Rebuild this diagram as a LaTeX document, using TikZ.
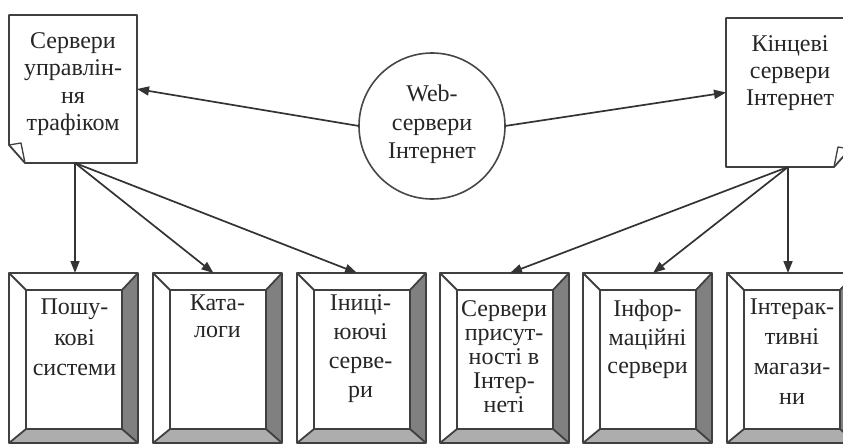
\documentclass[tikz,border=0pt]{standalone}
\usepackage{fontspec}
\setmainfont{Liberation Serif}
\usetikzlibrary{arrows.meta,calc}
\tikzset{
 lbl/.style={font=\fontsize{24}{#1}\selectfont, text=black!85, align=center, inner sep=0pt, anchor=north},
 lbl/.default=28,
 conn/.style={draw=black!80, line width=1.7pt, -{Triangle[length=12pt,width=9pt]}},
 frame/.style={draw=black!75, line width=1.8pt, line join=round},
 bbox/.style={rectangle, minimum width=129pt, minimum height=170pt, inner sep=0pt, outer sep=0pt},
 docbox/.style={rectangle, inner sep=0pt, outer sep=0pt},
 rbevel/.style={fill=black!50},
 bbevel/.style={fill=black!32},
}
\newcommand\drawbevel[1]{%
 \coordinate (#1-iNW) at ($(#1.north west)+(17,17)$);
 \coordinate (#1-iNE) at ($(#1.north east)+(-16,17)$);
 \coordinate (#1-iSE) at ($(#1.south east)+(-16,-14)$);
 \coordinate (#1-iSW) at ($(#1.south west)+(17,-14)$);
 \fill[rbevel] (#1.north east) -- (#1.south east) -- (#1-iSE) -- (#1-iNE) -- cycle;
 \fill[bbevel] (#1.south west) -- (#1.south east) -- (#1-iSE) -- (#1-iSW) -- cycle;
 \draw[frame] (#1.north west) rectangle (#1.south east);
 \draw[frame] (#1-iNW) rectangle (#1-iSE);
 \draw[frame] (#1.north west) -- (#1-iNW) (#1.north east) -- (#1-iNE)
   (#1.south east) -- (#1-iSE) (#1.south west) -- (#1-iSW);}
\begin{document}
\begin{tikzpicture}[x=1pt,y=-1pt]
\useasboundingbox[fill=white] (0,0) rectangle (843,444);
% top documents
\node[docbox, minimum width=128pt, minimum height=148pt] (tl) at (73,89) {};
\draw[frame] (tl.north west) -- (tl.north east) -- (tl.south east)
  -- ($(tl.south west)+(16,0)$) -- ($(tl.south west)+(0,-18)$) -- cycle;
\draw[frame, line width=1.3pt] ($(tl.south west)+(0,-18)$) -- ($(tl.south west)+(12,-20)$) -- ($(tl.south west)+(16,0)$);
\node[docbox, minimum width=124pt, minimum height=149pt] (tr) at (788,92.5) {};
\draw[frame] (tr.north east) -- (tr.north west) -- (tr.south west)
  -- ($(tr.south east)+(-16,0)$) -- ($(tr.south east)+(0,-18)$) -- cycle;
\draw[frame, line width=1.3pt] ($(tr.south east)+(0,-18)$) -- ($(tr.south east)+(-12,-20)$) -- ($(tr.south east)+(-16,0)$);
\node[circle, minimum size=146pt, inner sep=0pt, outer sep=0pt, draw=black!72, line width=1.6pt] (web) at (432,126) {};
% bottom boxes
\node[bbox] (b1) at (73.5,358) {};
\node[bbox] (b2) at (217.5,358) {};
\node[bbox] (b3) at (361.5,358) {};
\node[bbox] (b4) at (504.5,358) {};
\node[bbox] (b5) at (647.5,358) {};
\node[bbox] (b6) at (791.5,358) {};
\drawbevel{b1}\drawbevel{b2}\drawbevel{b3}\drawbevel{b4}\drawbevel{b5}\drawbevel{b6}
% texts
\node[lbl=27.5] (tltxt) at (73,32) {Сервери\\управлін-\\ня\\трафіком};
\node[lbl=28.5] (webtxt) at (432,85) {Web-\\сервери\\Інтернет};
\node[lbl=27] (trtxt) at (790,35) {Кінцеві\\сервери\\Інтернет};
\node[lbl=30.5] (b1txt) at (74.5,299) {Пошу-\\кові\\системи};
\node[lbl=27] (b2txt) at (217.5,295) {Ката-\\логи};
\node[lbl=29.3] (b3txt) at (360.5,294) {Іниці-\\юючі\\серве-\\ри};
\node[lbl=24] (b4txt) at (504,300) {Сервери\\присут-\\ності в\\Інтер-\\неті};
\node[lbl=28.5] (b5txt) at (647.5,300) {Інфор-\\маційні\\сервери};
\node[lbl=30] (b6txt) at (792,299) {Інтерак-\\тивні\\магази-\\ни};
% connectors
\coordinate (tlo) at ($(tl.south)+(2,0)$);
\draw[conn] (web.west) -- (tl.east);
\draw[conn] (web.east) -- (tr.west);
\draw[conn] (tlo) -- (tlo |- b1.north);
\draw[conn] (tlo) -- ($(b2.north)+(-4,0)$);
\draw[conn] (tlo) -- ($(b3.north)+(-4.5,0)$);
\draw[conn] (tr.south) -- ($(b4.north)+(5.5,0)$);
\draw[conn] (tr.south) -- ($(b5.north)+(5.5,0)$);
\draw[conn] (tr.south) -- (tr.south |- b6.north);
\end{tikzpicture}
\end{document}
